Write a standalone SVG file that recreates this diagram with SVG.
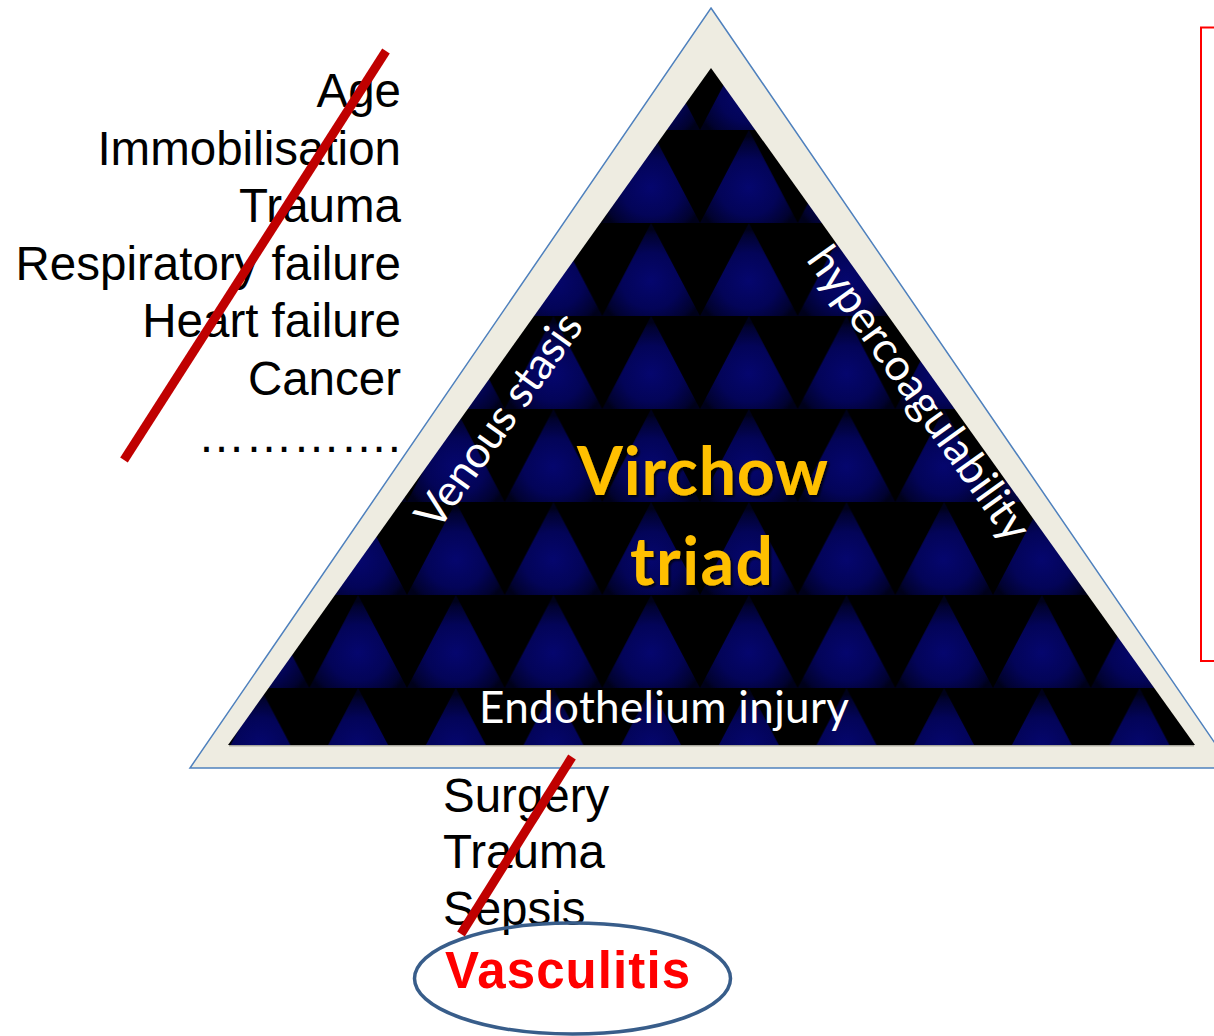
<svg xmlns="http://www.w3.org/2000/svg" width="1214" height="1036" viewBox="0 0 1214 1036">
  <style>
    .list { font-family: "Liberation Sans", Arial, sans-serif; font-size: 47.5px; fill: #000000; }
    .side { font-family: Lato, "Open Sans", sans-serif; font-size: 44px; fill: #FFFFFF; }
    .title { font-family: Lato, "Open Sans", sans-serif; font-size: 66px; font-weight: bold; fill: #FFC000; text-anchor: middle; }
    .strike { stroke: #C00000; stroke-width: 9; fill: none; }
  </style>
  <defs>
    <radialGradient id="tileGrad" cx="0.5" cy="0.62" r="0.55">
      <stop offset="0" stop-color="#05066E"/>
      <stop offset="0.55" stop-color="#030458"/>
      <stop offset="0.9" stop-color="#010230"/>
      <stop offset="1" stop-color="#00011A"/>
    </radialGradient>
    <pattern id="tri" patternUnits="userSpaceOnUse" x="700" y="130" width="97.67" height="93">
      <rect width="97.67" height="93" fill="#000000"/>
      <polygon points="48.83,0 97.67,93 0,93" fill="url(#tileGrad)"/>
    </pattern>
    <filter id="shadow" x="-10%" y="-10%" width="120%" height="130%">
      <feDropShadow dx="2" dy="2" stdDeviation="1.2" flood-color="#000000" flood-opacity="0.8"/>
    </filter>
  </defs>

  <g id="triangle">
    <polygon points="711,8 1232,768 190,768" fill="#EEECE1" stroke="#4F81BD" stroke-width="1.5"/>
    <polygon points="711,68 1195,745 228,745" fill="url(#tri)"/>
    <line x1="229" y1="745.8" x2="1194" y2="745.8" stroke="#8A8A80" stroke-width="1"/>
  </g>

  <g id="label-venous">
    <text class="side" text-anchor="middle" textLength="253" transform="translate(511,429) rotate(-54.5)">Venous stasis</text>
  </g>
  <g id="label-hyper">
    <text class="side" text-anchor="middle" textLength="350" transform="translate(907,402) rotate(54.5)">hypercoagulability</text>
  </g>
  <g id="label-endo">
    <text class="side" text-anchor="middle" textLength="370" x="664" y="723">Endothelium injury</text>
  </g>
  <g id="title" filter="url(#shadow)">
    <text class="title" x="702.5" y="495" textLength="251">Virchow</text>
    <text class="title" x="701.5" y="585" textLength="143">triad</text>
  </g>

  <g id="left-list">
    <text class="list" text-anchor="end" x="401" y="107">Age</text>
    <text class="list" text-anchor="end" x="401" y="165">Immobilisation</text>
    <text class="list" text-anchor="end" x="401" y="222">Trauma</text>
    <text class="list" text-anchor="end" x="401" y="280">Respiratory failure</text>
    <text class="list" text-anchor="end" x="401" y="337">Heart failure</text>
    <text class="list" text-anchor="end" x="401" y="395">Cancer</text>
    <text class="list" text-anchor="end" x="401" y="452">………….</text>
  </g>

  <g id="bottom-list">
    <text class="list" x="443" y="812">Surgery</text>
    <text class="list" x="443" y="868">Trauma</text>
    <text class="list" x="443" y="925">Sepsis</text>
  </g>

  <g id="vasculitis">
    <ellipse cx="572.5" cy="978.5" rx="158" ry="55.5" fill="none" stroke="#385D8A" stroke-width="3.5"/>
    <text x="445" y="988" font-family="Liberation Sans, Arial, sans-serif" font-size="51" font-weight="bold" fill="#FF0000" textLength="245">Vasculitis</text>
  </g>

  <g id="red-box">
    <rect x="1201" y="27.5" width="60" height="633.5" fill="none" stroke="#FF0000" stroke-width="2"/>
  </g>

  <g id="connectors">
    <line class="strike" x1="386" y1="51" x2="124" y2="460"/>
    <line class="strike" x1="572" y1="757" x2="461" y2="934"/>
  </g>
</svg>
